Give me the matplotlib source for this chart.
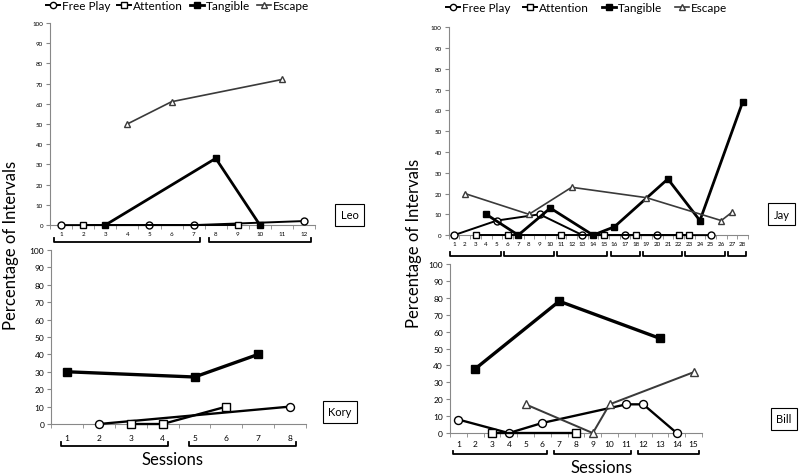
import matplotlib
matplotlib.use('Agg')
import matplotlib.pyplot as plt
import matplotlib.transforms as mtransforms
from matplotlib.lines import Line2D

plt.rcParams['font.family'] = ['Lato', 'DejaVu Sans']

# Leo
leo_free_x = [1, 5, 7, 12]
leo_free_y = [0, 0, 0, 2]
leo_att_x = [2, 9]
leo_att_y = [0, 0]
leo_tan_x = [3, 8, 10]
leo_tan_y = [0, 33, 0]
leo_esc_x = [4, 6, 11]
leo_esc_y = [50, 61, 72]
leo_groups = [(1, 7), (8, 12)]

# Kory
kory_free_x = [2, 8]
kory_free_y = [0, 10]
kory_att_x = [3, 4, 6]
kory_att_y = [0, 0, 10]
kory_tan_x = [1, 5, 7]
kory_tan_y = [30, 27, 40]
kory_groups = [(1, 4), (5, 8)]

# Jay
jay_free_x = [1, 5, 9, 13, 17, 20, 25]
jay_free_y = [0, 7, 10, 0, 0, 0, 0]
jay_att_x = [3, 6, 11, 15, 18, 22, 23]
jay_att_y = [0, 0, 0, 0, 0, 0, 0]
jay_tan_x = [4, 7, 10, 14, 16, 21, 24, 28]
jay_tan_y = [10, 0, 13, 0, 4, 27, 7, 64]
jay_esc_x = [2, 8, 12, 19, 26, 27]
jay_esc_y = [20, 10, 23, 18, 7, 11]
jay_groups = [(1, 5), (6, 10), (11, 15), (16, 18), (19, 22), (23, 26), (27, 28)]

# Bill
bill_free_x = [1, 4, 6, 11, 12, 14]
bill_free_y = [8, 0, 6, 17, 17, 0]
bill_att_x = [3, 8]
bill_att_y = [0, 0]
bill_tan_x = [2, 7, 13]
bill_tan_y = [38, 78, 56]
bill_esc_x = [5, 9, 10, 15]
bill_esc_y = [17, 0, 17, 36]
bill_groups = [(1, 6), (7, 11), (12, 15)]

styles = {
    'Free Play': dict(color='black', marker='o', mfc='white', mec='black', lw=1.4, ms=5),
    'Attention': dict(color='black', marker='s', mfc='white', mec='black', lw=1.4, ms=5),
    'Tangible': dict(color='black', marker='s', mfc='black', mec='black', lw=2.0, ms=5),
    'Escape': dict(color='#3a3a3a', marker='^', mfc='white', mec='#3a3a3a', lw=1.2, ms=5),
}


def setup_axis(ax, n, tick_size, pad):
    ax.set_xlim(0.5, n + 0.5)
    ax.set_ylim(0, 100)
    ax.set_yticks(range(0, 101, 10))
    ax.set_xticks(range(1, n + 1))
    ax.set_xticks([k + 0.5 for k in range(0, n + 1)], minor=True)
    ax.tick_params(axis='x', which='major', length=0, labelsize=tick_size, pad=pad)
    ax.tick_params(axis='x', which='minor', length=3, color='#888888')
    ax.tick_params(axis='y', length=3, color='#888888', labelsize=tick_size, pad=2)
    for s in ['top', 'right']:
        ax.spines[s].set_visible(False)
    for s in ['left', 'bottom']:
        ax.spines[s].set_color('#888888')


def draw_brackets(ax, groups, ypos, padx, h=0.02):
    trans = mtransforms.blended_transform_factory(ax.transData, ax.transAxes)
    for a, b in groups:
        ax.plot([a - padx, a - padx, b + padx, b + padx], [ypos + h, ypos, ypos, ypos + h],
                color='black', lw=1.3, transform=trans, clip_on=False)


def plot_series(ax, series, scale=1.0, ms_scale=1.0):
    for name, xs, ys in series:
        st = dict(styles[name])
        st['lw'] = st['lw'] * scale
        st['ms'] = st['ms'] * ms_scale
        ax.plot(xs, ys, clip_on=False, zorder=3, **st)


def label_box(ax, text, x, y, size):
    ax.text(x, y, text, transform=ax.transAxes, fontsize=size, ha='center', va='center',
            bbox=dict(boxstyle='square,pad=0.5', fc='white', ec='black', lw=0.8))


fig = plt.figure(figsize=(8, 4.77), dpi=100)

ax_leo = fig.add_axes([0.0625, 0.526, 0.3315, 0.424])
ax_kory = fig.add_axes([0.064, 0.109, 0.3185, 0.365])
ax_jay = fig.add_axes([0.561, 0.505, 0.374, 0.436])
ax_bill = fig.add_axes([0.5625, 0.090, 0.315, 0.3544])

setup_axis(ax_leo, 12, 4.5, 4)
plot_series(ax_leo, [('Free Play', leo_free_x, leo_free_y), ('Attention', leo_att_x, leo_att_y),
                     ('Tangible', leo_tan_x, leo_tan_y), ('Escape', leo_esc_x, leo_esc_y)])
draw_brackets(ax_leo, leo_groups, -0.084, 0.3)
label_box(ax_leo, 'Leo', 1.13, 0.05, 8)

setup_axis(ax_kory, 8, 6, 7)
plot_series(ax_kory, [('Free Play', kory_free_x, kory_free_y), ('Attention', kory_att_x, kory_att_y),
                      ('Tangible', kory_tan_x, kory_tan_y)], scale=1.2, ms_scale=1.15)
draw_brackets(ax_kory, kory_groups, -0.126, 0.18)
label_box(ax_kory, 'Kory', 1.133, 0.07, 8)

setup_axis(ax_jay, 28, 4.5, 4)
plot_series(ax_jay, [('Free Play', jay_free_x, jay_free_y), ('Attention', jay_att_x, jay_att_y),
                     ('Tangible', jay_tan_x, jay_tan_y), ('Escape', jay_esc_x, jay_esc_y)])
draw_brackets(ax_jay, jay_groups, -0.10, 0.35)
label_box(ax_jay, 'Jay', 1.112, 0.1, 8)

setup_axis(ax_bill, 15, 6, 5)
plot_series(ax_bill, [('Free Play', bill_free_x, bill_free_y), ('Attention', bill_att_x, bill_att_y),
                      ('Tangible', bill_tan_x, bill_tan_y), ('Escape', bill_esc_x, bill_esc_y)],
            scale=1.2, ms_scale=1.15)
draw_brackets(ax_bill, bill_groups, -0.124, 0.3)
label_box(ax_bill, 'Bill', 1.325, 0.085, 8)

fig.text(0.014, 0.485, 'Percentage of Intervals', rotation=90, ha='center', va='center', fontsize=12)
fig.text(0.517, 0.49, 'Percentage of Intervals', rotation=90, ha='center', va='center', fontsize=12)
fig.text(0.215, 0.026, 'Sessions', ha='center', va='baseline', fontsize=12)
fig.text(0.752, 0.008, 'Sessions', ha='center', va='baseline', fontsize=12)

handles = []
for name in ['Free Play', 'Attention', 'Tangible', 'Escape']:
    st = dict(styles[name])
    st['ms'] = 4.5
    handles.append(Line2D([], [], label=name, **st))

# left legend is tighter than the right one in the original
for cx, cy, cs in [(0.222, 0.986, 0.6), (0.733, 0.982, 1.1)]:
    fig.legend(handles=handles, loc='center', bbox_to_anchor=(cx, cy), ncol=4, frameon=False,
               fontsize=8.5, handlelength=1.2, handletextpad=0.15, columnspacing=cs,
               borderaxespad=0, borderpad=0)

fig.savefig('out.png', dpi=100)
